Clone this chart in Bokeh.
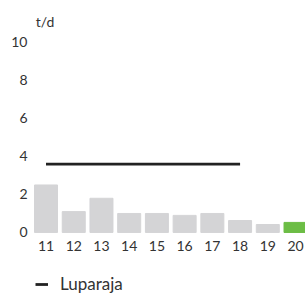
from bokeh.plotting import figure
from bokeh.models import FixedTicker, Legend, LegendItem, Label, ColumnDataSource
from bokeh.embed import file_html
from bokeh.resources import INLINE

years = [11, 12, 13, 14, 15, 16, 17, 18, 19, 20]
values = [2.5, 1.1, 1.8, 1.0, 1.0, 0.9, 1.0, 0.63, 0.42, 0.53]
colors = ["#d4d4d6"] * 9 + ["#6cbd45"]
limit_years = [11, 12, 13, 14, 15, 16, 17, 18]
limit_values = [3.6] * 8
y_ticks = [0, 2, 4, 6, 8, 10]
unit = "t/d"
series_name = "Luparaja"

FONT = "Lato"
TXT = "#333333"

p = figure(width=305, height=296, output_backend="svg", toolbar_location=None,
           x_range=(10.44, 20.36), y_range=(-3.37, 12),
           min_border_left=30, min_border_right=0, min_border_top=4, min_border_bottom=0)
p.outline_line_color = None
p.xgrid.visible = False
p.ygrid.visible = False
p.background_fill_color = None
p.border_fill_color = None

src = ColumnDataSource(dict(x=years, top=values, color=colors))
p.vbar(x="x", top="top", bottom=0, width=0.83, color="color", source=src)
line = p.line(limit_years, limit_values, line_color="#222222", line_width=2.8)

for ax in (p.xaxis[0], p.yaxis[0]):
    ax.axis_line_color = None
    ax.major_tick_line_color = None
    ax.minor_tick_line_color = None
    ax.major_tick_out = 0
    ax.major_tick_in = 0
    ax.major_label_text_font = FONT
    ax.major_label_text_font_size = "14px"
    ax.major_label_text_color = TXT

p.xaxis.ticker = FixedTicker(ticks=years)
p.yaxis.ticker = FixedTicker(ticks=y_ticks)
p.xaxis.major_label_standoff = -56
p.yaxis.major_label_standoff = 3

p.add_layout(Label(x=10.63, y=11.1, text=unit, text_font=FONT, text_font_size="14px",
                   text_color=TXT, text_baseline="middle", text_align="left"))

legend = Legend(items=[LegendItem(label=series_name, renderers=[line])],
                location=(5, 2), orientation="horizontal",
                label_text_font=FONT, label_text_font_size="17px", label_text_color=TXT,
                glyph_width=13, glyph_height=16, border_line_color=None,
                background_fill_alpha=0, margin=0, padding=0, label_standoff=12)
p.add_layout(legend)

open("out.html", "w").write(file_html(p, INLINE))
